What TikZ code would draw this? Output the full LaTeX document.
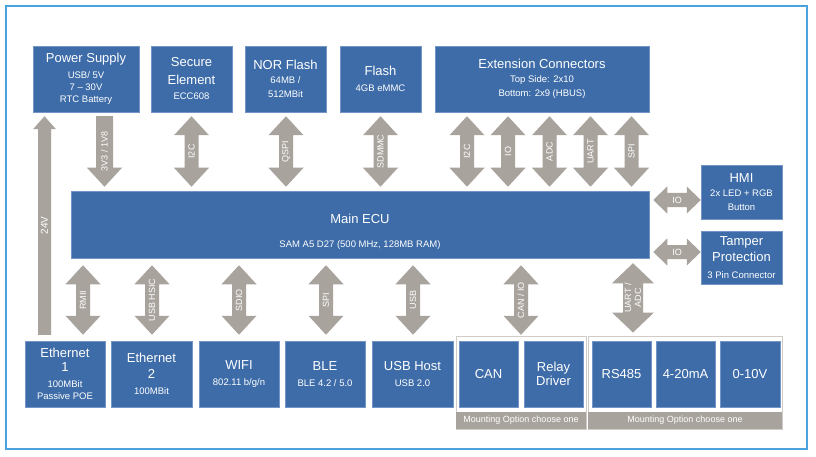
\documentclass[tikz,border=0pt]{standalone}
\usepackage{fontspec}
\setmainfont{Liberation Sans}
\usetikzlibrary{calc}
\definecolor{blkblue}{HTML}{3D6CA8}
\definecolor{blkedge}{HTML}{7396C6}
\definecolor{arrgray}{HTML}{A9A39E}
\definecolor{framec}{HTML}{4CA3DC}
\definecolor{grpline}{HTML}{CFCBC7}
\newcommand\ttl[1]{{\fontsize{13}{15}\selectfont #1}}
\newcommand\subfnt{\fontsize{9.5}{12}\selectfont}
\def\gtop{4pt}\def\gbot{4pt}
% vertical double block arrow between two node anchors
\newcommand\vdarrow[8]{% #1 top anchor, #2 bottom anchor, #3 x, #4 half shaft, #5 half head, #6 head length, #7 label, #8 name
 \fill[arrgray] let \p1=(#1), \p2=(#2) in
   (#3pt,\y1-\gtop) -- (#3pt+#5pt,\y1-\gtop-#6pt) -- (#3pt+#4pt,\y1-\gtop-#6pt)
   -- (#3pt+#4pt,\y2+\gbot+#6pt) -- (#3pt+#5pt,\y2+\gbot+#6pt) -- (#3pt,\y2+\gbot)
   -- (#3pt-#5pt,\y2+\gbot+#6pt) -- (#3pt-#4pt,\y2+\gbot+#6pt)
   -- (#3pt-#4pt,\y1-\gtop-#6pt) -- (#3pt-#5pt,\y1-\gtop-#6pt) -- cycle;
 \path let \p1=(#1), \p2=(#2) in
   node[arrlbl, rotate=90] (#8) at (#3pt,{(\y1-\gtop+\y2+\gbot)/2}) {#7};
}
% horizontal double block arrow between two node anchors
\newcommand\hdarrow[5]{% #1 left anchor, #2 right anchor, #3 y (image px), #4 label, #5 name
 \fill[arrgray] let \p1=(#1), \p2=(#2) in
   (\x1+4pt,-#3pt) -- (\x1+18pt,-#3pt+13.5pt) -- (\x1+18pt,-#3pt+7pt)
   -- (\x2-14pt,-#3pt+7pt) -- (\x2-14pt,-#3pt+13.5pt) -- (\x2,-#3pt)
   -- (\x2-14pt,-#3pt-13.5pt) -- (\x2-14pt,-#3pt-7pt)
   -- (\x1+18pt,-#3pt-7pt) -- (\x1+18pt,-#3pt-13.5pt) -- cycle;
 \path let \p1=(#1), \p2=(#2) in
   node[arrlbl] (#5) at ({(\x1+4pt+\x2)/2},-#3pt) {#4};
}
\tikzset{
  blk/.style={draw=blkedge, line width=0.5pt, fill=blkblue, text=white,
    inner sep=0pt, align=center, font=\subfnt},
  arrlbl/.style={text=white, font=\fontsize{9}{10}\selectfont, inner sep=0pt, align=center},
  grpframe/.style={draw=grpline, line width=1pt, fill=white, inner sep=0pt},
  band/.style={fill=arrgray, text=white, inner sep=0pt, font=\fontsize{9}{10}\selectfont},
  ecutext/.style={text=white, inner sep=0pt, align=center, font=\subfnt}
}
\begin{document}
\begin{tikzpicture}[x=1pt,y=-1pt]
\useasboundingbox (0,0) rectangle (816,457);
\fill[white] (0,0) rectangle (816,457);
\draw[framec, line width=1.2pt] (6,6) rectangle (807,449);

% top row
\node[blk, minimum width=106pt, minimum height=66pt] (pwr) at (86,79)
  {\ttl{Power Supply}\\[3.5pt]USB/ 5V\\7 – 30V\\RTC Battery};
\node[blk, minimum width=81pt, minimum height=66pt] (sec) at (191.5,79)
  {\ttl{Secure}\\[5.5pt]\ttl{Element}\\[3.5pt]ECC608};
\node[blk, minimum width=81pt, minimum height=66pt] (nor) at (285.5,79)
  {\ttl{NOR Flash}\\[2.5pt]64MB /\\[2pt]512MBit};
\node[blk, minimum width=81pt, minimum height=66pt] (fla) at (380.5,79)
  {\ttl{Flash}\\[3.5pt]4GB eMMC};
\node[blk, minimum width=214pt, minimum height=66pt] (ext) at (542,79)
  {\ttl{Extension Connectors}\\[2pt]Top Side: 2x10\\[2pt]Bottom: 2x9 (HBUS)};

% main ECU
\node[blk, minimum width=578pt, minimum height=67pt] (ecu) at (360,224.5) {};
\node[ecutext] (ecut) at (360,231.5) {\ttl{Main ECU}\\[12pt]SAM A5 D27 (500 MHz, 128MB RAM)};

% right side
\node[blk, minimum width=81pt, minimum height=54pt] (hmi) at (741.5,192)
  {\ttl{HMI}\\[2.5pt]2x LED + RGB\\[2pt]Button};
\node[blk, minimum width=81pt, minimum height=53pt] (tmp) at (741.5,257.5)
  {\ttl{Tamper}\\[2.5pt]\ttl{Protection}\\[5pt]3 Pin Connector};

% bottom row
\node[blk, minimum width=80pt, minimum height=66pt] (eth1) at (65,374)
  {\ttl{Ethernet}\\[1.5pt]\ttl{1}\\[4.5pt]100MBit\\Passive POE};
\node[blk, minimum width=81pt, minimum height=66pt] (eth2) at (151.5,374)
  {\ttl{Ethernet}\\[4pt]\ttl{2}\\[3.5pt]100MBit};
\node[blk, minimum width=80pt, minimum height=66pt] (wifi) at (239,374)
  {\ttl{WIFI}\\[3.5pt]802.11 b/g/n};
\node[blk, minimum width=80pt, minimum height=66pt] (ble) at (325,374)
  {\ttl{BLE}\\[3.5pt]BLE 4.2 / 5.0};
\node[blk, minimum width=81pt, minimum height=66pt] (usb) at (412.5,374)
  {\ttl{USB Host}\\[3.5pt]USB 2.0};

% mounting option groups
\node[grpframe, minimum width=130pt, minimum height=93pt] (grp1) at (521,382.5) {};
\node[band, minimum width=130pt, minimum height=17pt] (band1) at (521,420.5) {Mounting Option choose one};
\node[blk, minimum width=59pt, minimum height=66pt] (can) at (488.5,374) {\ttl{CAN}};
\node[blk, minimum width=59pt, minimum height=66pt] (rel) at (553.5,374) {\ttl{Relay}\\[1.5pt]\ttl{Driver}};

\node[grpframe, minimum width=194pt, minimum height=93pt] (grp2) at (685,382.5) {};
\node[band, minimum width=194pt, minimum height=17pt] (band2) at (685,420.5) {Mounting Option choose one};
\node[blk, minimum width=59pt, minimum height=66pt] (rs) at (621.5,374) {\ttl{RS485}};
\node[blk, minimum width=59pt, minimum height=66pt] (ma) at (685.5,374) {\ttl{4-20mA}};
\node[blk, minimum width=60pt, minimum height=66pt] (v10) at (750,374) {\ttl{0-10V}};

% 24V single arrow (up) from Ethernet 1 to Power Supply
\fill[arrgray] let \p1=(eth1.north), \p2=(pwr.south) in
  (38pt,\y1+6pt) -- (51pt,\y1+6pt) -- (51pt,\y2-17pt) -- (56pt,\y2-17pt)
  -- (44.5pt,\y2-4pt) -- (33pt,\y2-17pt) -- (38pt,\y2-17pt) -- cycle;
\path let \p1=(eth1.north), \p2=(pwr.south) in
  node[arrlbl, rotate=90, font=\fontsize{10}{11}\selectfont] (l24) at (44.5pt,{(\y1+6pt+\y2-4pt)/2}) {24V};

% 3V3 / 1V8 single arrow (down) from Power Supply to Main ECU
\fill[arrgray] let \p1=(pwr.south), \p2=(ecu.north) in
  (96pt,\y1-4pt) -- (113pt,\y1-4pt) -- (113pt,\y2+23pt) -- (122pt,\y2+23pt)
  -- (104.5pt,\y2+4pt) -- (87pt,\y2+23pt) -- (96pt,\y2+23pt) -- cycle;
\path let \p1=(pwr.south), \p2=(ecu.north) in
  node[arrlbl, rotate=90] (l3v3) at (104.5pt,{(\y1-4pt+\y2+4pt)/2}) {3V3 / 1V8};

% top double arrows
\def\gtop{4pt}\def\gbot{4pt}
\vdarrow{sec.south}{ecu.north}{191.5}{7}{17.5}{19}{I2C}{lsec}
\vdarrow{nor.south}{ecu.north}{286}{7}{17.5}{19}{QSPI}{lnor}
\vdarrow{fla.south}{ecu.north}{380.5}{7}{17.5}{19}{SDMMC}{lfla}
\vdarrow{ext.south}{ecu.north}{467}{7}{17.5}{19}{I2C}{lext1}
\vdarrow{ext.south}{ecu.north}{508}{7}{17.5}{19}{IO}{lext2}
\vdarrow{ext.south}{ecu.north}{549.5}{7}{17.5}{19}{ADC}{lext3}
\vdarrow{ext.south}{ecu.north}{590.5}{7}{17.5}{19}{UART}{lext4}
\vdarrow{ext.south}{ecu.north}{631.5}{7}{17.5}{19}{SPI}{lext5}

% bottom double arrows
\def\gtop{7pt}\def\gbot{6pt}
\vdarrow{ecu.south}{eth1.north}{83}{7}{17.5}{19}{RMII}{leth1}
\vdarrow{ecu.south}{eth2.north}{152}{7}{17.5}{19}{USB HSIC}{leth2}
\vdarrow{ecu.south}{wifi.north}{239}{7}{17.5}{19}{SDIO}{lwifi}
\vdarrow{ecu.south}{ble.north}{326}{7}{17.5}{19}{SPI}{lble}
\vdarrow{ecu.south}{usb.north}{413}{7}{17.5}{19}{USB}{lusb}
\def\gtop{7pt}\def\gbot{0.7pt}
\vdarrow{ecu.south}{grp1.north}{521}{7}{17.5}{19}{CAN / IO}{lgrp1}
\def\gtop{5pt}\def\gbot{3pt}
\vdarrow{ecu.south}{grp2.north}{633}{10}{21}{20}{UART /\\ADC}{lgrp2}

% horizontal IO arrows
\hdarrow{ecu.east}{hmi.west}{200}{IO}{lhmi}
\hdarrow{ecu.east}{tmp.west}{252}{IO}{ltmp}
\end{tikzpicture}
\end{document}
